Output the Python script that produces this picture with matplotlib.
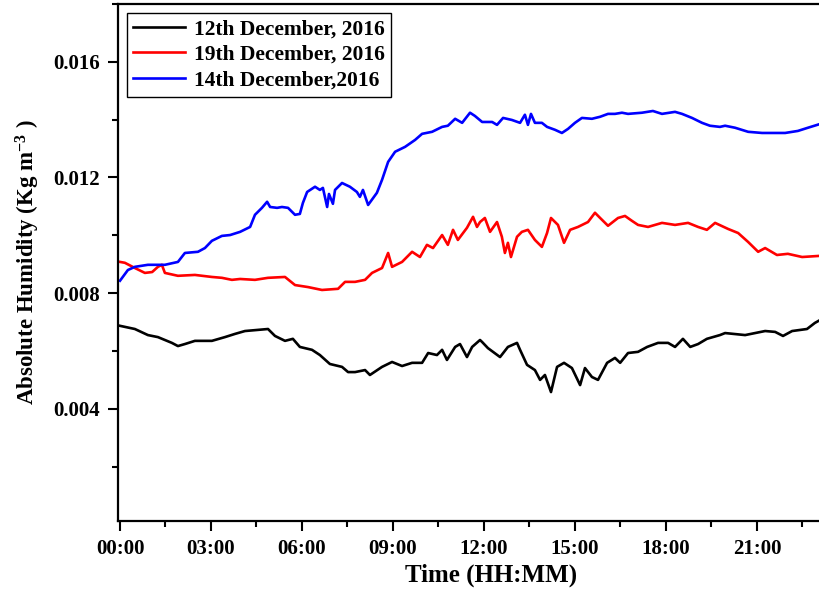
import matplotlib
matplotlib.use("Agg")
import matplotlib.pyplot as plt
from matplotlib.ticker import FixedLocator, FuncFormatter, MultipleLocator

plt.rcParams["font.family"] = ["Liberation Serif", "DejaVu Serif"]
plt.rcParams["font.weight"] = "bold"
plt.rcParams["mathtext.fontset"] = "custom"
plt.rcParams["mathtext.rm"] = "Liberation Serif:bold"
plt.rcParams["mathtext.bf"] = "Liberation Serif:bold"
plt.rcParams["mathtext.default"] = "rm"

# Absolute humidity (g m^-3, converted to kg m^-3 when drawn) against time of day (hours)
t_dec12 = [0.00, 0.49, 0.92, 1.25, 1.71, 1.91, 2.14, 2.47, 3.03, 3.46, 3.79, 4.12,
           4.88, 5.11, 5.44, 5.70, 5.93, 6.33, 6.59, 6.92, 7.32, 7.52, 7.75, 8.08,
           8.24, 8.64, 8.97, 9.30, 9.63, 9.96, 10.16, 10.45, 10.62, 10.78, 11.05,
           11.21, 11.44, 11.61, 11.87, 11.94, 12.13, 12.53, 12.79, 13.09, 13.19,
           13.42, 13.68, 13.85, 14.01, 14.21, 14.41, 14.64, 14.90, 15.17, 15.33,
           15.56, 15.76, 16.06, 16.32, 16.49, 16.75, 17.08, 17.38, 17.74, 18.07,
           18.30, 18.56, 18.80, 19.06, 19.35, 19.78, 19.95, 20.61, 21.27, 21.60,
           21.86, 22.16, 22.65, 22.91, 23.08]
ah_dec12 = [6.87, 6.76, 6.55, 6.48, 6.28, 6.17, 6.24, 6.35, 6.35, 6.48, 6.59, 6.69,
            6.76, 6.52, 6.35, 6.42, 6.14, 6.04, 5.86, 5.55, 5.45, 5.27, 5.27, 5.34,
            5.17, 5.45, 5.62, 5.48, 5.59, 5.59, 5.93, 5.86, 6.04, 5.69, 6.14,
            6.24, 5.79, 6.14, 6.38, 6.31, 6.10, 5.79, 6.14, 6.28, 6.04,
            5.52, 5.34, 5.00, 5.17, 4.58, 5.45, 5.59, 5.41, 4.82, 5.41,
            5.10, 5.00, 5.59, 5.76, 5.59, 5.93, 5.97, 6.14, 6.28, 6.28,
            6.14, 6.42, 6.14, 6.24, 6.42, 6.55, 6.62, 6.55, 6.69, 6.66,
            6.52, 6.69, 6.76, 6.97, 7.07]

t_dec19 = [0.00, 0.16, 0.49, 0.82, 1.06, 1.25, 1.38, 1.48, 1.91, 2.47, 3.03, 3.36,
           3.69, 3.96, 4.45, 4.88, 5.44, 5.77, 6.20, 6.66, 7.19, 7.42, 7.75, 8.08,
           8.31, 8.64, 8.84, 8.97, 9.30, 9.63, 9.89, 10.12, 10.32, 10.62, 10.81,
           10.98, 11.14, 11.44, 11.64, 11.77, 11.87, 12.03, 12.20, 12.43, 12.59,
           12.69, 12.79, 12.89, 13.09, 13.25, 13.45, 13.68, 13.91, 14.08, 14.21,
           14.44, 14.64, 14.84, 15.10, 15.43, 15.66, 15.83, 16.09, 16.42, 16.65,
           16.88, 17.08, 17.41, 17.87, 18.30, 18.73, 19.06, 19.35, 19.62, 20.05,
           20.38, 20.71, 21.04, 21.27, 21.66, 22.02, 22.49, 23.08]
ah_dec19 = [9.08, 9.05, 8.87, 8.70, 8.73, 8.91, 8.98, 8.70, 8.60, 8.63, 8.56, 8.53,
            8.46, 8.49, 8.46, 8.53, 8.56, 8.28, 8.21, 8.11, 8.15, 8.39, 8.39, 8.46,
            8.70, 8.87, 9.39, 8.91, 9.08, 9.43, 9.25, 9.67, 9.56, 10.01, 9.67,
            10.19, 9.84, 10.26, 10.64, 10.29, 10.46, 10.60, 10.12, 10.46, 9.95,
            9.39, 9.74, 9.25, 9.95, 10.12, 10.19, 9.84, 9.60, 10.08, 10.60,
            10.36, 9.74, 10.19, 10.29, 10.46, 10.78, 10.60, 10.33, 10.60, 10.67,
            10.50, 10.36, 10.29, 10.43, 10.36, 10.43, 10.29, 10.19, 10.43, 10.22,
            10.08, 9.77, 9.43, 9.56, 9.32, 9.36, 9.25, 9.29]

t_dec14 = [0.00, 0.26, 0.49, 0.92, 1.48, 1.91, 2.14, 2.57, 2.80, 3.03, 3.36, 3.63,
           3.96, 4.29, 4.45, 4.68, 4.85, 4.95, 5.18, 5.34, 5.54, 5.77, 5.93, 6.03,
           6.17, 6.43, 6.59, 6.69, 6.83, 6.89, 7.02, 7.09, 7.32, 7.58, 7.81, 7.91,
           8.01, 8.18, 8.47, 8.64, 8.84, 9.07, 9.40, 9.73, 9.96, 10.29, 10.62,
           10.81, 11.05, 11.28, 11.54, 11.70, 11.94, 12.27, 12.43, 12.63, 12.92,
           13.19, 13.35, 13.45, 13.55, 13.68, 13.91, 14.08, 14.34, 14.57, 14.77,
           15.00, 15.23, 15.56, 15.83, 16.09, 16.32, 16.55, 16.75, 17.21, 17.57,
           17.87, 18.30, 18.53, 18.86, 19.19, 19.45, 19.78, 19.95, 20.28, 20.71,
           21.17, 21.60, 21.93, 22.35, 22.68, 23.08]
ah_dec14 = [8.43, 8.80, 8.91, 8.98, 8.98, 9.08, 9.39, 9.43, 9.56, 9.81, 9.98, 10.01,
            10.12, 10.29, 10.71, 10.95, 11.16, 10.98, 10.95, 10.98, 10.95, 10.71, 10.74, 11.12,
            11.50, 11.68, 11.57, 11.64, 10.98, 11.43, 11.09, 11.57, 11.81, 11.68, 11.50, 11.33,
            11.57, 11.05, 11.47, 11.92, 12.54, 12.89, 13.06, 13.30, 13.51, 13.58, 13.75,
            13.79, 14.03, 13.89, 14.24, 14.13, 13.92, 13.92, 13.82, 14.06, 13.99,
            13.89, 14.17, 13.82, 14.20, 13.89, 13.89, 13.75, 13.65, 13.54, 13.68,
            13.89, 14.06, 14.03, 14.10, 14.20, 14.20, 14.24, 14.20, 14.24, 14.30,
            14.20, 14.27, 14.20, 14.06, 13.89, 13.79, 13.75, 13.79, 13.72, 13.58,
            13.54, 13.54, 13.54, 13.61, 13.72, 13.85]

series_labels = ["12th December, 2016", "19th December, 2016", "14th December,2016"]
series_colors = ["black", "red", "blue"]
hour_ticks = [0, 3, 6, 9, 12, 15, 18, 21]

fig = plt.figure(figsize=(8.2, 5.96), dpi=100)
ax = fig.add_axes([118 / 820, 75 / 596, (864 - 118) / 820, 517 / 596])

series = [(t_dec12, ah_dec12), (t_dec19, ah_dec19), (t_dec14, ah_dec14)]
for (t, ah), lab, col in zip(series, series_labels, series_colors):
    ax.plot(t, [v * 1e-3 for v in ah], color=col, lw=1.9, label=lab)

ax.set_xlim(-0.066, 24.53)
ax.set_ylim(0.00012, 0.018)

ax.xaxis.set_major_locator(FixedLocator(hour_ticks))
ax.xaxis.set_major_formatter(FuncFormatter(lambda v, p: f"{int(round(v)) % 24:02d}:00"))
ax.xaxis.set_minor_locator(FixedLocator([1.5, 4.5, 7.5, 10.5, 13.5, 16.5, 19.5, 22.5]))
ax.yaxis.set_major_locator(FixedLocator([0.004, 0.008, 0.012, 0.016]))
ax.yaxis.set_major_formatter(FuncFormatter(lambda v, p: f"{v:.3f}"))
ax.yaxis.set_minor_locator(MultipleLocator(0.002))

ax.tick_params(which="both", direction="out", top=False, right=False, width=1.5)
ax.tick_params(which="major", length=7, labelsize=15, pad=6)
ax.tick_params(which="minor", length=4.5)
for lab in ax.get_xticklabels() + ax.get_yticklabels():
    lab.set_fontweight("bold")
for sp in ax.spines.values():
    sp.set_linewidth(1.6)

ax.set_xlabel("Time (HH:MM)", fontsize=18, fontweight="bold", labelpad=3)
ax.set_ylabel(r"Absolute Humidity (Kg m$^{-3}$ )", fontsize=16.5, fontweight="bold", labelpad=8)

leg = ax.legend(loc="upper left", bbox_to_anchor=(0.0, 1.0), prop={"size": 15.5, "weight": "bold"},
                frameon=True, fancybox=False, edgecolor="black", framealpha=1,
                handlelength=2.4, labelspacing=0.25, borderpad=0.3, handletextpad=0.4,
                borderaxespad=0.42)
leg.get_frame().set_linewidth(1.0)

fig.savefig("out.png", dpi=100)
